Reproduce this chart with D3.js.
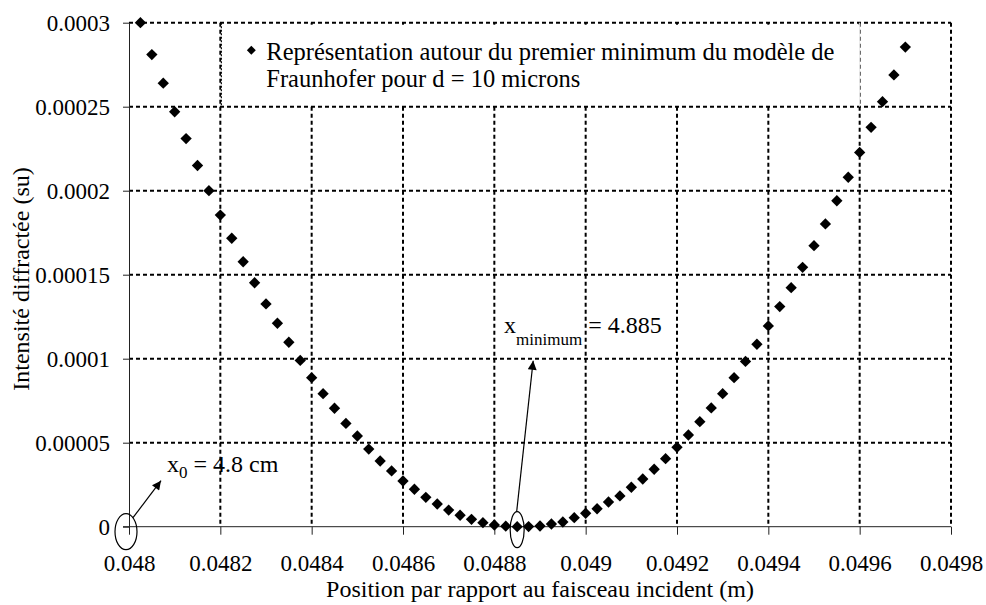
<!DOCTYPE html>
<html>
<head>
<meta charset="utf-8">
<style>
  body { margin: 0; background: #fff; }
  #warm { position: absolute; left: -10000px; top: 0; font-family: 'Liberation Serif'; }
</style>
</head>
<body>
<div id="warm" aria-hidden="true">
  <span style="font-size:17px">minimum 0</span>
  <span style="font-size:23px">0.0003</span>
  <span style="font-size:24px">Fraunhofer</span>
  <span style="font-size:24.5px">Représentation</span>
</div>
<div id="graf"></div>
<script src="https://cdn.jsdelivr.net/npm/d3@7"></script>
<script>
// force la mise en page du texte caché pour charger la police
document.getElementById('warm').offsetWidth

//// DONNÉES
positions = [0.048025, 0.04805, 0.048075, 0.0481, 0.048125, 0.04815, 0.048175, 0.0482,
  0.048225, 0.04825, 0.048275, 0.0483, 0.048325, 0.04835, 0.048375, 0.0484,
  0.048425, 0.04845, 0.048475, 0.0485, 0.048525, 0.04855, 0.048575, 0.0486,
  0.048625, 0.04865, 0.048675, 0.0487, 0.048725, 0.04875, 0.048775, 0.0488,
  0.048825, 0.04885, 0.048875, 0.0489, 0.048925, 0.04895, 0.048975, 0.049,
  0.049025, 0.04905, 0.049075, 0.0491, 0.049125, 0.04915, 0.049175, 0.0492,
  0.049225, 0.04925, 0.049275, 0.0493, 0.049325, 0.04935, 0.049375, 0.0494,
  0.049425, 0.04945, 0.049475, 0.0495, 0.049525, 0.04955, 0.049575, 0.0496,
  0.049625, 0.04965, 0.049675, 0.0497]
intensites = [0.0003, 0.000281, 0.000264, 0.000247, 0.000231, 0.000215, 0.0002, 0.0001855,
  0.0001717, 0.0001577, 0.0001452, 0.0001326, 0.0001211, 0.0001098, 0.000099, 0.0000887,
  0.0000792, 0.0000705, 0.0000615, 0.000054, 0.0000462, 0.0000391, 0.0000332, 0.0000272,
  0.0000223, 0.0000175, 0.0000135, 0.0000099, 0.0000068, 0.0000044, 0.0000024, 0.000001,
  0.0000003, 0.0, 0.0000001, 0.0000004, 0.0000016, 0.0000028, 0.0000054, 0.000008,
  0.0000107, 0.0000147, 0.0000183, 0.0000235, 0.0000284, 0.0000342, 0.0000405, 0.0000473,
  0.0000546, 0.0000625, 0.0000707, 0.0000792, 0.0000887, 0.0000984, 0.0001086, 0.0001195,
  0.000131, 0.0001423, 0.0001544, 0.0001673, 0.0001802, 0.000194, 0.000208, 0.0002228,
  0.0002377, 0.000253, 0.0002689, 0.0002855]

xTicks = [0.048, 0.0482, 0.0484, 0.0486, 0.0488, 0.049, 0.0492, 0.0494, 0.0496, 0.0498]
xTickLabels = ['0.048', '0.0482', '0.0484', '0.0486', '0.0488', '0.049', '0.0492', '0.0494', '0.0496', '0.0498']
yTicks = [0, 0.00005, 0.0001, 0.00015, 0.0002, 0.00025, 0.0003]
yTickLabels = ['0', '0.00005', '0.0001', '0.00015', '0.0002', '0.00025', '0.0003']

legendLines = ['Représentation autour du premier minimum du modèle de', 'Fraunhofer pour d = 10 microns']
xTitle = 'Position par rapport au faisceau incident (m)'
yTitle = 'Intensité diffractée (su)'

data = positions.map((p, i) => ({ pos: p, val: intensites[i] }))

//// DIMENSIONS (coordonnées de la page)
ancho_total = 986
alto_total = 605
izq = 129, der = 951, arriba = 22.7, abajo = 526.7
fuentes = ['Liberation Serif', 'Liberation Serif, serif', 'Times New Roman, serif', 'Tinos, serif', 'serif']

svg = d3.select('#graf').append('svg')
  .attr('width', ancho_total)
  .attr('height', alto_total)

svg.append('defs').append('marker')
  .attr('id', 'fleche')
  .attr('viewBox', '0 0 10 10')
  .attr('refX', 10).attr('refY', 5)
  .attr('markerWidth', 10).attr('markerHeight', 9)
  .attr('markerUnits', 'userSpaceOnUse')
  .attr('orient', 'auto')
  .append('path')
  .attr('d', 'M0,0L10,5L0,10Z')
  .attr('fill', '#000')

//// ÉCHELLES
x = d3.scaleLinear().domain([0.048, 0.0498]).range([izq, der])
y = d3.scaleLinear().domain([0, 0.0003]).range([abajo, arriba])

//// GRILLE POINTILLÉE
svg.selectAll('.vgrid')
  .data(xTicks.slice(1))
  .enter().append('line')
  .attr('x1', d => x(d)).attr('x2', d => x(d))
  .attr('y1', arriba).attr('y2', abajo)
  .attr('stroke', '#000')
  .attr('stroke-width', 2)
  .attr('stroke-dasharray', '4,3')

svg.selectAll('.hgrid')
  .data(yTicks.slice(1))
  .enter().append('line')
  .attr('y1', d => y(d)).attr('y2', d => y(d))
  .attr('x1', izq).attr('x2', der)
  .attr('stroke', '#000')
  .attr('stroke-width', 2)
  .attr('stroke-dasharray', '4,3')

//// AXES
xAxis = svg.append('g')
  .attr('transform', `translate(0, ${abajo})`)
  .call(d3.axisBottom(x).tickValues(xTicks).tickSizeInner(8).tickSizeOuter(0)
    .tickFormat((d, i) => xTickLabels[i]))
yAxis = svg.append('g')
  .attr('transform', `translate(${izq}, 0)`)
  .call(d3.axisLeft(y).tickValues(yTicks).tickSizeInner(6).tickSizeOuter(0)
    .tickFormat((d, i) => yTickLabels[i]))

xAxis.attr('font-size', 23)
yAxis.attr('font-size', 23)
svg.selectAll('.domain').attr('stroke', '#222')
svg.selectAll('.tick line').attr('stroke', '#222')
xAxis.selectAll('text').attr('dy', 33).attr('fill', '#000')
yAxis.selectAll('text').attr('x', -19).attr('fill', '#000')
xAxis.select('path.domain').attr('d', `M${izq - 6},0H${der}`)

//// LÉGENDE
legX = x(0.0482)
legend = svg.append('g')
legend.append('rect')
  .attr('x', legX + 1)
  .attr('y', arriba + 2)
  .attr('width', x(0.0496) - legX - 1)
  .attr('height', y(0.00025) - arriba - 4)
  .attr('fill', '#fff')
legend.append('line')
  .attr('x1', legX + 1).attr('x2', legX + 1)
  .attr('y1', arriba).attr('y2', y(0.00025))
  .attr('stroke', '#000').attr('stroke-width', 1.2)
  .attr('stroke-dasharray', '2,1.5')
legend.append('line')
  .attr('x1', x(0.0496)).attr('x2', x(0.0496))
  .attr('y1', arriba).attr('y2', y(0.00025))
  .attr('stroke', '#e8e8e8').attr('stroke-width', 1)
legend.append('path')
  .attr('d', d3.symbol().type(d3.symbolSquare).size(40)())
  .attr('transform', `translate(${legX + 31}, ${arriba + 27.5}) rotate(45)`)
  .attr('fill', '#000')
legend.selectAll('.leg')
  .data(legendLines)
  .enter().append('text')
  .attr('x', legX + 46)
  .attr('y', (d, i) => arriba + 37 + i * 27.5)
  .attr('font-size', 24.5)
  .text(d => d)

//// POINTS
svg.selectAll('.pt')
  .data(data)
  .enter().append('path')
  .attr('d', d3.symbol().type(d3.symbolSquare).size(64)())
  .attr('transform', d => `translate(${x(d.pos)}, ${y(d.val)}) rotate(45)`)
  .attr('fill', '#000')

//// ANNOTATIONS
// x0
svg.append('ellipse')
  .attr('cx', x(0.048) - 3).attr('cy', y(0) + 5)
  .attr('rx', 11).attr('ry', 18)
  .attr('fill', 'none').attr('stroke', '#000').attr('stroke-width', 1.2)
svg.append('line')
  .attr('x1', x(0.048) + 4).attr('y1', y(0) - 9)
  .attr('x2', x(0.048) + 32).attr('y2', y(0) - 46)
  .attr('stroke', '#000').attr('stroke-width', 1.2)
  .attr('marker-end', 'url(#fleche)')
t0 = svg.append('text')
  .attr('x', x(0.048) + 38).attr('y', y(0) - 55)
  .attr('font-size', 24)
t0.append('tspan').text('x')
t0.append('tspan').text('0').attr('font-size', 17).attr('dy', 6)
t0.append('tspan').text(' = 4.8 cm').attr('dy', -6)

// x minimum
svg.append('ellipse')
  .attr('cx', x(0.04885)).attr('cy', y(0) + 3)
  .attr('rx', 7).attr('ry', 18)
  .attr('fill', 'none').attr('stroke', '#000').attr('stroke-width', 1.2)
svg.append('line')
  .attr('x1', x(0.04885) - 0.5).attr('y1', y(0) - 15)
  .attr('x2', x(0.04885) + 16).attr('y2', y(0.0001) + 2)
  .attr('stroke', '#000').attr('stroke-width', 1.2)
  .attr('marker-end', 'url(#fleche)')
tm = svg.append('text')
  .attr('x', 504).attr('y', 333)
  .attr('font-size', 24)
tm.append('tspan').text('x')
tm.append('tspan').text('minimum').attr('font-size', 17).attr('dy', 12)
tm.append('tspan').text(' = 4.885').attr('dy', -12)

//// TITRES DES AXES
svg.append('text')
  .attr('x', 540)
  .attr('y', 597)
  .attr('text-anchor', 'middle')
  .attr('font-size', 24)
  .text(xTitle)
svg.append('text')
  .attr('transform', 'translate(29, 279) rotate(-90)')
  .attr('text-anchor', 'middle')
  .attr('font-size', 24)
  .text(yTitle)

//// POLICE POUR TOUS LES TEXTES
xAxis.attr('font-family', null)
yAxis.attr('font-family', null)
function police(k) {
  svg.selectAll('text').attr('font-family', fuentes[k]).style('font-family', fuentes[k])
}
police(0)
// on redemande la police plus tard, avec une autre écriture, pour forcer une nouvelle recherche
if (document.fonts && document.fonts.ready) {
  document.fonts.ready.then(() => requestAnimationFrame(() => police(1)))
}
setTimeout(() => police(2), 60)
setTimeout(() => police(1), 200)
</script>
</body>
</html>
